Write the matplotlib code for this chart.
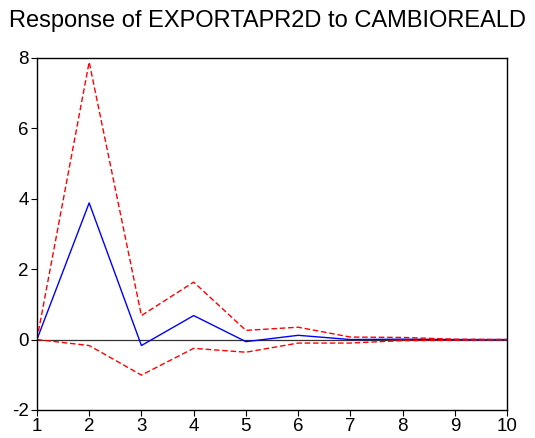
import numpy as np
import matplotlib
matplotlib.use("Agg")
from matplotlib import pyplot as plt

plt.rcParams['font.family'] = ['Liberation Sans', 'DejaVu Sans']
plt.rcParams['axes.unicode_minus'] = False

periods = [1, 2, 3, 4, 5, 6, 7, 8, 9, 10]
response = [0.0, 3.88, -0.17, 0.68, -0.06, 0.12, 0.0, 0.01, 0.0, 0.0]
upper = [0.0, 7.88, 0.68, 1.63, 0.26, 0.35, 0.07, 0.06, 0.01, 0.0]
lower = [0.0, -0.17, -1.01, -0.25, -0.36, -0.10, -0.10, -0.03, -0.02, 0.0]

fig = plt.figure(figsize=(5.35, 4.38), dpi=100)
ax = fig.add_axes([0.069, 0.064, 0.879, 0.804])

ax.axhline(0, color='#333333', lw=0.9)
ax.plot(periods, response, color='blue', lw=1.0)
ax.plot(periods, upper, color='red', lw=1.0, ls=(0, (4, 2)))
ax.plot(periods, lower, color='red', lw=1.0, ls=(0, (4, 2)))

ax.set_xlim(1, 10)
ax.set_ylim(-2, 8)
ax.set_xticks(periods)
ax.set_yticks([-2, 0, 2, 4, 6, 8])
ax.tick_params(direction='out', length=4, labelsize=13.5, pad=2, top=False, right=False)
for s in ax.spines.values():
    s.set_linewidth(1.0)

fig.text(0.5, 0.952, 'Response of EXPORTAPR2D to CAMBIOREALD', ha='center', va='center', fontsize=17)

fig.savefig('out.png', dpi=100)
